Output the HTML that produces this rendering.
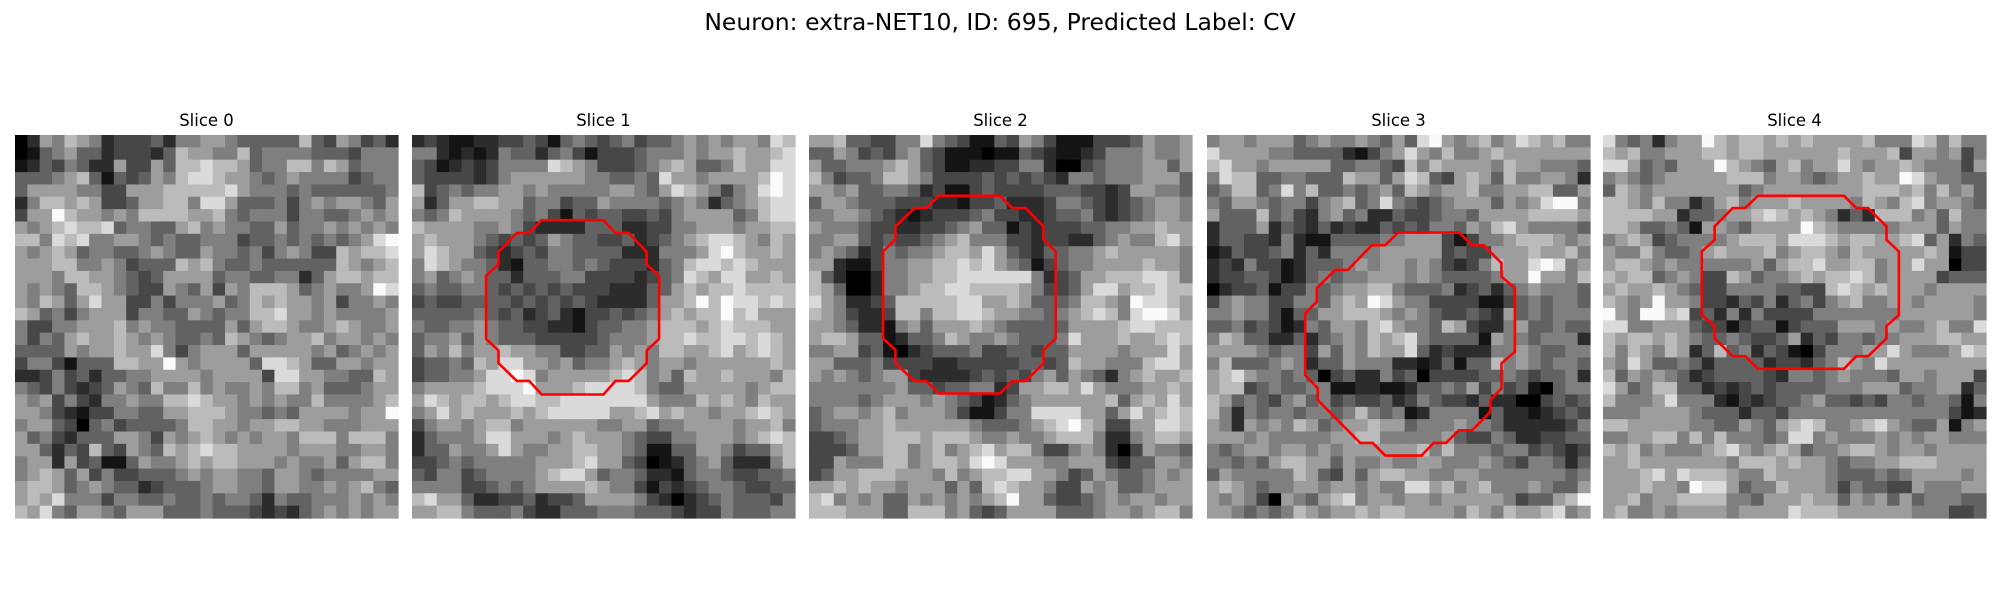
<!DOCTYPE html>
<html><head><meta charset="utf-8">
<style>
html,body{margin:0;padding:0;background:#fff;}
body{width:2000px;height:600px;overflow:hidden;font-family:"DejaVu Sans","Liberation Sans",sans-serif;}
</style></head>
<body>
<svg id="fig" width="2000" height="600" xmlns="http://www.w3.org/2000/svg">
<rect width="2000" height="600" fill="#fff"/>
<text x="1000" y="30" text-anchor="middle" font-size="23.5" font-family="DejaVu Sans, Liberation Sans, sans-serif">Neuron: extra-NET10, ID: 695, Predicted Label: CV</text>
</svg>
<script>
const sliceTitles = ["Slice 0","Slice 1","Slice 2","Slice 3","Slice 4"];
const slice0 = [
"0265765233342556654444474365342","0145644233324766557455554443555","1243542263364778776455775764555","4445674143465788766545655553455",
"4666655336667777786555454444445","2577676334667758864445356566546","3669766565777766754555355445656","6567877845544675655446455656565",
"7758785566545445553445454545689","6567645544565446554535653376778","6667755653444767544544444476567","6665776654346666455445524677677",
"6565477654336546365777645655698","6576468663353555645767665635565","7645356663554465455778665655556","5335566675655444464677655676556",
"5354676676565445476545667566565","4444656676685356664666665645656","3553144477669656666488764466566","2235342445566665666638866554476",
"5435323465475575655657756444566","6563532556557787665656557555567","6653213355446677765545466665669","5664304534444577665667766555666",
"6453244466536567656566577757775","6642437436547678776666566655665","5662634114655676776665655646775","5676463533444565665546654555566",
"6776456544234445665546655656754","6768555355445445455425445556565","7685466546664445444323245656566"];
const slice1 = [
"2321122334314543453445656566587","5521212544245313334555656676678","4312323555587653334567644576688","4333323566666655445486656666798",
"7345455665655555665468765356898","6246677664553446555545652456788","5457666654531434433435666645788","7666655653222244422335566656677",
"6766654343465443342345678876576","6876643234355444422255568976676","5876554214455454333245788787666","5645654424445533332345876886676",
"4544554343434333222446767787777","3433444434343432222466797988787","4444454342342133434567677978666","5445565443322134455677767877766",
"4556465444333334555677877887876","4657566766553344656577667867876","3445476886656455676566566666676","3445568898566666787564766766657",
"5666678889666788887544666665677","6876776788778888888655576765766","5686766676788888667867665667876","3566567756666665566455666656675",
"2455568866656766654335566656787","2446556865566776654114466534467","3345455555666786643012456422257","4355345555678864554221455433445",
"5555334545666676553132345543344","7866422334233466665320234544435","6677544453224445554443233544455"];
const slice2 = [
"6674433558543114365311133346556","4465343564311101143211235556556","6445556764311223355200345556646","7534457765333343434325545556664",
"6656445542311343333444332366554","4665444333221334222355432345665","5566543212333453322344532345665","6555433223345644132333445566766",
"5566434334567555332332245655786","5654235455677686432445567666665","6621135566778786541345566667665","7420025566778888885234667778875",
"7640025567788777765334688677877","8652234777778866764445776598876","7653223775778876655456787589986","6654221564666765444446666788777",
"6776441244576556544458666766787","5566341023444533443446666566686","6644453333223333344347665557886","6565456632222343435646542567667",
"5555555644344552366776865556676","5555456665654312456666667467686","4566567566653113558888664686787","4555667666666544456789763366887",
"3345667776777655655677752256776","3334667756756786775335652036554","3365557756776898666556663244665","3466777666575677886653465445656",
"6676766566646478766533656445666","7856564465656567966433456566566","7776664477756434666644456656775"];
const slice3 = [
"5665666456556546489656756876755","8666655444421356865755676666666","7866566666445543757666657665554","5877445544476646874367647556652",
"4577458574454564765667556677446","5466545535674585434566646568995","6444745325645224334554666677776","2444624324232243435546578655554",
"2443325211444455666313556777656","1243345242555566666343366676675","2325331244456566565323576689856","2334431245455666565444456696657",
"0233413354566775444523424565554","3565533554676986553333113454554","5565531446677765654334326454555","4453431254665786554763225644544",
"5764422424565767854444165545552","6666545536465766842322255654455","5744456524465552212414475654554","6786554540342253403333445434452",
"6773454455112211244546353410455","7645435645343342354332422003434","7525455455457545125555142212343","6526565764566766455565542222235",
"6665655555667755555643354223344","5456656656566666675755545534323","5545467766465565566555654355424","4655555764364677665566555555545",
"6765455665665655886756755565446","6565306546785665665666665344679","6654545765667677666657657667856"];
const slice4 = [
"8545256697677676766667555875755","7675566677677666666766673665635","8864546669765467566865667655536","5654566666777566545667669865544",
"4765666666645666666667776757564","7765755246756667666657657856654","7777662445667876765242777564755","7764454166546666976555556664655",
"5676345555677768887677667846254","6557544567666756776576666676133","6776565555556467786677566866033","7677456533764556767787566663444",
"6766765433555544337876766656666","7656966533243524535675566566665","9659978342525333355555556666665","8855666433134413444666565567558",
"7677676544543346243554556667766","7576576247452431035556686555687","6586445424444233245765866666666","7465654234444325545655546656663",
"8645774423234344445556664556624","7555685552132344564434355455415","5556666544424435555555555555312","7766666554465467875567865446156",
"5566775757555458856555656566555","7675655567865676455677656656666","6676666666577767665455667776666","6667868777655766665444545666656",
"6667665988645576665354433655566","6675667777554666766465646455544","6755656666566668777666666555334"];
const slices = [slice0, slice1, slice2, slice3, slice4];
// contour vertices in image (cell) coordinates: [x, y]
const contour1 = [[10,6.4],[15,6.4],[15.97,7.43],[17.05,7.43],[18.5,8.97],[18.5,9.97],[19.5,10.9],[19.5,16],[18.5,16.95],[18.5,17.97],[17.05,19.4],[15.97,19.4],[15,20.5],[10,20.5],[8.98,19.4],[7.98,19.4],[6.5,17.97],[6.5,16.95],[5.5,16],[5.5,10.9],[6.5,9.97],[6.5,8.97],[7.98,7.43],[8.98,7.43]];
const contour2 = [[10,4.42],[14.96,4.42],[15.96,5.42],[17.04,5.42],[18.47,6.9],[18.47,7.93],[19.47,8.93],[19.47,15.96],[18.47,16.9],[18.47,17.99],[17.04,19.42],[15.96,19.42],[14.96,20.42],[10,20.42],[9,19.42],[8.04,19.42],[6.5,17.99],[6.5,16.9],[5.5,15.96],[5.5,8.93],[6.5,7.93],[6.5,6.9],[8.04,5.42],[9,5.42]];
const contour3 = [[14.96,7.39],[19.88,7.39],[20.96,8.42],[21.9,8.42],[23.34,9.88],[23.34,10.96],[24.42,11.9],[24.42,17.04],[23.34,17.99],[23.34,20],[22.45,20.96],[22.45,21.9],[20.96,23.4],[19.88,23.4],[18.85,24.42],[17.85,24.42],[16.85,25.45],[13.93,25.45],[12.9,24.42],[11.9,24.42],[8.47,20.96],[8.47,20],[7.45,18.93],[7.45,13.93],[8.39,12.99],[8.39,11.9],[9.88,10.42],[10.9,10.42],[12.85,8.42],[13.93,8.42]];
const contour4 = [[12.04,4.42],[19.01,4.42],[20,5.42],[20.96,5.42],[22.45,6.9],[22.45,7.98],[23.45,8.93],[23.45,14.07],[22.45,14.96],[22.45,15.96],[20.96,17.4],[20,17.4],[19.01,18.42],[12.04,18.42],[11.01,17.4],[10,17.4],[8.53,15.96],[8.53,14.96],[7.5,14.07],[7.5,8.93],[8.53,7.98],[8.53,6.9],[10,5.42],[11.01,5.42]];
const contours = [null, contour1, contour2, contour3, contour4];

const NS = "http://www.w3.org/2000/svg";
const svg = document.getElementById("fig");
const panelX = [15, 412, 809, 1207, 1603];
const panelY = 135, panelSize = 383;
slices.forEach((grid, p) => {
  const n = grid.length;
  const cs = panelSize / n;
  const sx = v => panelX[p] + (v + 0.5) * cs;
  const sy = v => panelY + (v + 0.5) * cs;
  const g = document.createElementNS(NS, "g");
  
  
  svg.appendChild(g);
  let mn = 9, mx = 0;
  grid.forEach(r => { for (const c of r) { const v = +c; if (v < mn) mn = v; if (v > mx) mx = v; } });
  grid.forEach((row, r) => {
    for (let c = 0; c < row.length; c++) {
      const v = (+row[c] - mn) / (mx - mn || 1);
      const gv = Math.round(Math.pow(v, 1.15) * 250);
      const rect = document.createElementNS(NS, "rect");
      
      
      rect.setAttribute("x", (panelX[p] + c * cs).toFixed(2));
      rect.setAttribute("y", (panelY + r * cs).toFixed(2));
      rect.setAttribute("width", (cs + 0.6).toFixed(2));
      rect.setAttribute("height", (cs + 0.6).toFixed(2));
      rect.setAttribute("fill", `rgb(${gv},${gv},${gv})`);
      g.appendChild(rect);
    }
  });
  const t = document.createElementNS(NS, "text");
  
  
  t.setAttribute("x", panelX[p] + panelSize / 2);
  t.setAttribute("y", 126);
  t.setAttribute("text-anchor", "middle");
  t.setAttribute("font-size", "16.5");
  t.setAttribute("font-family", "DejaVu Sans, Liberation Sans, sans-serif");
  t.textContent = sliceTitles[p];
  svg.appendChild(t);
  const ct = contours[p];
  if (ct) {
    const poly = document.createElementNS(NS, "polygon");
    
    
    poly.setAttribute("points", ct.map(q => sx(q[0]).toFixed(1) + "," + sy(q[1]).toFixed(1)).join(" "));
    poly.setAttribute("fill", "none");
    poly.setAttribute("stroke", "#ff0000");
    poly.setAttribute("stroke-width", "2.6");
    g.appendChild(poly);
  }
});
</script>
</body></html>
